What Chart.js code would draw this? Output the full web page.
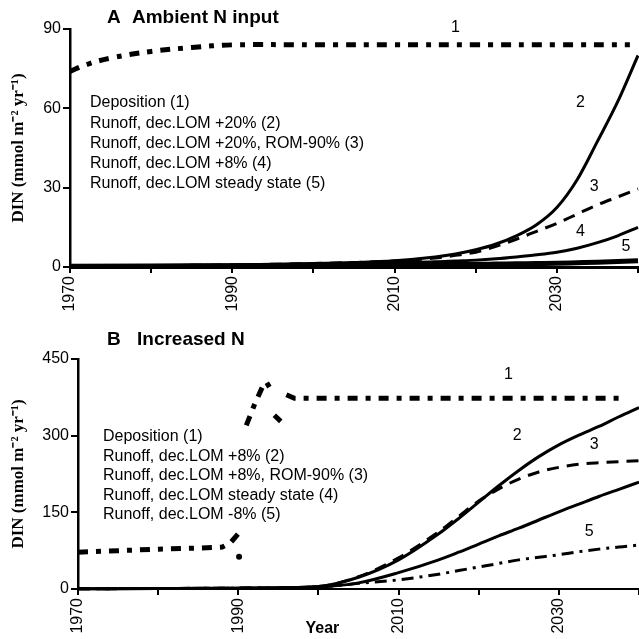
<!DOCTYPE html>
<html>
<head>
<meta charset="utf-8">
<script src="https://cdn.jsdelivr.net/npm/chart.js@4.4.1/dist/chart.umd.min.js"></script>
<style>
  html, body { margin: 0; padding: 0; background: #fff; }
  canvas { display: block; }
</style>
</head>
<body>
<canvas id="chartA" width="639" height="320"></canvas>
<canvas id="chartB" width="639" height="319"></canvas>
<script>
// years used by the runoff curves (both panels)
var runYears = [1970, 1980, 1990, 2000, 2005, 2010, 2015, 2017.5, 2020, 2022.5, 2025, 2027.5, 2030, 2032.5, 2035, 2037.5, 2040];

// Panel A - ambient N input
var depYearsA = [1970, 1972, 1975, 1980, 1985, 1990, 2000, 2010, 2020, 2030, 2039];
var depositionA = [74, 76.5, 79, 81.5, 83, 84, 84, 84, 84, 84, 84];
var runoffA2 = [0.3, 0.5, 0.8, 1.3, 1.7, 2.4, 3.8, 4.9, 6.5, 8.7, 11.8, 16, 22.5, 33, 47.5, 62.5, 80];
var runoffA3 = [0.3, 0.5, 0.8, 1.3, 1.7, 2.3, 3.4, 4.4, 5.6, 7.8, 10.5, 13.5, 16.5, 20, 23.5, 26.5, 29.5];
var runoffA4 = [0.3, 0.5, 0.7, 1.1, 1.4, 1.7, 2.0, 2.3, 2.6, 3.1, 3.8, 4.6, 5.6, 7.1, 9.2, 11.8, 15];
var runoffA5 = [0.3, 0.4, 0.5, 0.6, 0.7, 0.8, 0.9, 1.0, 1.0, 1.1, 1.2, 1.3, 1.4, 1.6, 1.8, 2.1, 2.4];
var legendA = ['Deposition (1)', 'Runoff, dec.LOM +20% (2)', 'Runoff, dec.LOM +20%, ROM-90% (3)',
               'Runoff, dec.LOM +8% (4)', 'Runoff, dec.LOM steady state (5)'];
var curveNumsA = [{t: '1', x: 2017.5, y: 90.5}, {t: '2', x: 2032.9, y: 62}, {t: '3', x: 2034.6, y: 30.3},
                  {t: '4', x: 2032.9, y: 13.3}, {t: '5', x: 2038.5, y: 7.6}];

// Panel B - increased N (null = break in the deposition record)
var depYearsB = [1970, 1975, 1980, 1985, 1988, 1989, 1990, 1990.05, 1990.1, 1990.15, 1991, 1992, 1993, 1993.5, 1994, 1994.2, 1994.5, 1995.3, 1995.6, 1996, 1997, 2000, 2010, 2020, 2030, 2038];
var depositionB = [72, 75, 78, 80, 82, 90, 108, null, 63, null, 320, 360, 395, 405, 392, null, 340, 328, null, 380, 373, 373, 373, 373, 373, 373];
var runoffB2 = [0.5, 1, 1.7, 5, 23, 57, 108, 138, 170, 202, 232, 259, 282, 301, 318, 337, 355];
var runoffB3 = [0.5, 1, 1.7, 5, 24, 61, 112, 142, 172, 196, 215, 229, 238, 244, 247, 249, 251];
var runoffB4 = [0.5, 1, 1.7, 4, 12, 32, 57, 72, 88, 104, 119, 135, 151, 166, 181, 195, 209];
var runoffB5 = [0.5, 1, 1.7, 4, 11, 18, 29, 36, 43, 50, 57, 62, 67, 73, 78, 82, 86];
var legendB = ['Deposition (1)', 'Runoff, dec.LOM +8% (2)', 'Runoff, dec.LOM +8%, ROM-90% (3)',
               'Runoff, dec.LOM steady state (4)', 'Runoff, dec.LOM -8% (5)'];
var curveNumsB = [{t: '1', x: 2023.7, y: 419}, {t: '2', x: 2024.8, y: 301}, {t: '3', x: 2034.4, y: 282},
                  {t: '5', x: 2033.8, y: 112}];

var sans = 'Arial, "Liberation Sans", sans-serif';
var serif = '"Times New Roman", "Liberation Serif", serif';

function pts(xs, ys) {
  return xs.map(function (x, i) { return {x: x, y: ys[i]}; });
}

// a lone point between two breaks gets a dot so it stays visible
function loneDots(ys) {
  return ys.map(function (v, i) {
    return (v !== null && ys[i - 1] === null && ys[i + 1] === null) ? 3 : 0;
  });
}

// draws panel title, the text legend, curve numbers and the "Year" label
var annotate = {
  id: 'annotate',
  afterDraw: function (chart, args, o) {
    var ctx = chart.ctx, x = chart.scales.x, y = chart.scales.y;
    ctx.save();
    ctx.fillStyle = '#000';
    ctx.textBaseline = 'middle';
    ctx.font = 'bold 19px ' + sans;
    ctx.fillText(o.letter, 107, o.titleY);
    ctx.fillText(o.title, o.titleX, o.titleY);
    ctx.font = '16px ' + sans;
    chart.data.datasets.forEach(function (ds, i) {
      ctx.fillText(ds.label, o.legendX, o.legendY + i * o.legendStep);
    });
    ctx.textAlign = 'center';
    o.nums.forEach(function (n) {
      ctx.fillText(n.t, x.getPixelForValue(n.x), y.getPixelForValue(n.y));
    });
    if (o.year) {
      ctx.font = 'bold 16px ' + sans;
      ctx.fillText('Year', x.getPixelForValue(2000.5), chart.height - 10);
    }
    ctx.restore();
  }
};

function makeChart(id, cfg) {
  var line = function (label, xs, ys, w, dash) {
    return {label: label, data: pts(xs, ys), borderColor: '#000', backgroundColor: '#000', borderWidth: w,
            borderDash: dash, pointRadius: 0, pointBorderWidth: 0, fill: false, clip: false,
            spanGaps: false, cubicInterpolationMode: 'monotone'};
  };
  var dep = line(cfg.legend[0], cfg.depYears, cfg.dep, 5, [10, 8, 5, 8]);
  dep.cubicInterpolationMode = 'default';
  dep.tension = cfg.depTension;
  dep.pointRadius = loneDots(cfg.dep);
  var sets = [
    dep,
    line(cfg.legend[1], runYears, cfg.r2, 3, []),
    line(cfg.legend[2], runYears, cfg.r3, 3, [12, 8]),
    line(cfg.legend[3], runYears, cfg.r4, 3, []),
    line(cfg.legend[4], runYears, cfg.r5, cfg.r5Width, cfg.r5Dash)
  ];
  return new Chart(document.getElementById(id), {
    type: 'line',
    data: {datasets: sets},
    options: {
      responsive: false,
      animation: false,
      layout: {padding: {top: cfg.top, right: cfg.right, left: 0, bottom: 0}},
      plugins: {
        legend: {display: false},
        tooltip: {enabled: false},
        annotate: cfg.notes
      },
      scales: {
        x: {
          type: 'linear', min: 1970, max: 2040,
          border: {color: '#000', width: cfg.xBorder},
          grid: {display: true, drawOnChartArea: false, color: '#000', lineWidth: 2, tickLength: 6},
          ticks: {
            stepSize: 10, minRotation: 90, maxRotation: 90, padding: 3, color: '#000',
            font: {family: sans, size: 16},
            callback: function (v) { return (v - 1970) % 20 === 0 ? String(v) : ''; }
          },
          afterFit: function (s) { s.height = cfg.xHeight; s.paddingLeft = 0; s.paddingRight = 0; }
        },
        y: {
          min: 0, max: cfg.yMax,
          border: {color: '#000', width: 2.5},
          grid: {display: true, drawOnChartArea: false, color: '#000', lineWidth: 2, tickLength: 7},
          ticks: {stepSize: cfg.yStep, padding: 2, color: '#000', font: {family: sans, size: 16}},
          title: {display: true, text: 'DIN (mmol m\u207B\u00B2 yr\u207B\u00B9)', color: '#000',
                  font: {family: serif, size: 17, weight: 'bold'}, padding: {top: 8, bottom: 0}},
          afterFit: function (s) { s.width = cfg.yWidth; s.paddingTop = 0; s.paddingBottom = 0; }
        }
      }
    },
    plugins: [annotate]
  });
}

makeChart('chartA', {
  legend: legendA, depYears: depYearsA, dep: depositionA, depTension: 0.4,
  r2: runoffA2, r3: runoffA3, r4: runoffA4, r5: runoffA5, r5Width: 5, r5Dash: [],
  top: 29, right: 1, xHeight: 53, yWidth: 70, yMax: 90, yStep: 30, xBorder: 3,
  notes: {letter: 'A', title: 'Ambient N input', titleX: 132, titleY: 18,
          legendX: 90, legendY: 103, legendStep: 20.2, nums: curveNumsA, year: false}
});

makeChart('chartB', {
  legend: legendB, depYears: depYearsB, dep: depositionB, depTension: 0,
  r2: runoffB2, r3: runoffB3, r4: runoffB4, r5: runoffB5, r5Width: 3, r5Dash: [12, 6, 3, 6],
  top: 39, right: 0, xHeight: 50, yWidth: 78, yMax: 450, yStep: 150, xBorder: 2,
  notes: {letter: 'B', title: 'Increased N', titleX: 137, titleY: 20,
          legendX: 103, legendY: 117, legendStep: 19.5, nums: curveNumsB, year: true}
});
</script>
</body>
</html>
